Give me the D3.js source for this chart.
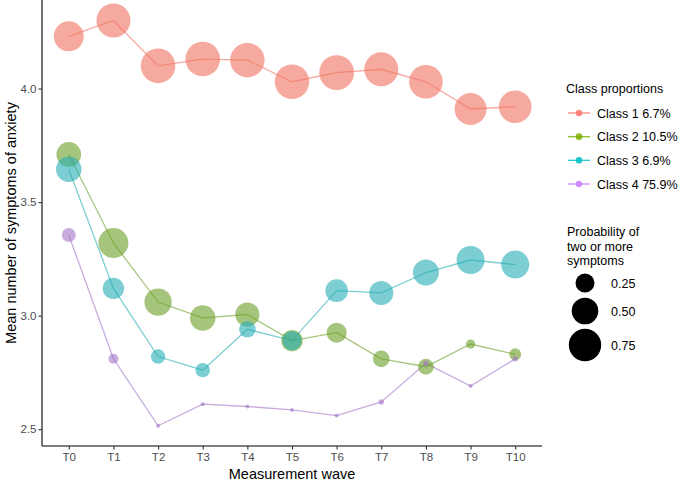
<!DOCTYPE html>
<html>
<head>
<meta charset="utf-8">
<script src="https://cdn.jsdelivr.net/npm/d3@7"></script>
<style>
  body { margin: 0; background: #fff; }
  svg { display: block; font-family: "Liberation Sans", Arial, sans-serif; }
</style>
</head>
<body>
<svg id="chart" width="684" height="481"></svg>
<script>
// ---- data ----
const waves = ["T0", "T1", "T2", "T3", "T4", "T5", "T6", "T7", "T8", "T9", "T10"];
const classNames = ["Class 1 6.7%", "Class 2 10.5%", "Class 3 6.9%", "Class 4 75.9%"];
const classColors = ["#F8766D", "#7CAE00", "#00BFC4", "#C77CFF"];
const markColors = ["#F0715F", "#6A9E24", "#24ADB4", "#A374C6"];

const class1Mean = [4.23, 4.30, 4.10, 4.13, 4.125, 4.03, 4.07, 4.085, 4.03, 3.91, 3.92];
const class2Mean = [3.71, 3.32, 3.06, 2.99, 3.005, 2.89, 2.925, 2.81, 2.775, 2.875, 2.83];
const class3Mean = [3.645, 3.12, 2.82, 2.76, 2.94, 2.89, 3.11, 3.10, 3.19, 3.245, 3.225];
const class4Mean = [3.355, 2.81, 2.515, 2.61, 2.60, 2.585, 2.56, 2.62, 2.79, 2.69, 2.81];

const class1Prob = [0.64, 0.83, 0.86, 0.86, 0.85, 0.85, 0.87, 0.83, 0.81, 0.73, 0.76];
const class2Prob = [0.43, 0.64, 0.53, 0.46, 0.41, 0.32, 0.28, 0.19, 0.17, 0.05, 0.09];
const class3Prob = [0.46, 0.32, 0.14, 0.14, 0.19, 0.26, 0.36, 0.41, 0.48, 0.56, 0.56];
const class4Prob = [0.13, 0.06, 0.0, 0.0, 0.0, 0.0, 0.0, 0.01, 0.01, 0.0, 0.01];

const yTicks = [2.5, 3.0, 3.5, 4.0];
const sizeBreaks = [0.25, 0.50, 0.75];

const means = [class1Mean, class2Mean, class3Mean, class4Mean];
const probs = [class1Prob, class2Prob, class3Prob, class4Prob];
const series = classNames.map((name, i) => ({
  name, color: markColors[i],
  points: waves.map((w, j) => ({ wave: w, mean: means[i][j], prob: probs[i][j] }))
}));

// ---- layout ----
const svg = d3.select("#chart");
const panel = { left: 42, right: 542, top: 0, bottom: 446 };

const x = d3.scalePoint().domain(waves).range([panel.left, panel.right]).padding(0.6);
const y = d3.scaleLinear().domain([2.426, 4.39]).range([panel.bottom, panel.top]);
const area = d3.scaleLinear().domain([0, 1]).range([4, 348]);
const radius = p => Math.sqrt(area(p));

// lines
const line = d3.line().x(d => x(d.wave)).y(d => y(d.mean));
svg.append("g").selectAll("path").data(series).join("path")
  .attr("d", d => line(d.points))
  .attr("fill", "none")
  .attr("stroke", d => d.color)
  .attr("stroke-opacity", 0.6)
  .attr("stroke-width", 1.3);

// points
series.forEach(s => {
  svg.append("g").selectAll("circle").data(s.points).join("circle")
    .attr("cx", d => x(d.wave))
    .attr("cy", d => y(d.mean))
    .attr("r", d => radius(d.prob))
    .attr("fill", s.color)
    .attr("fill-opacity", 0.6);
});

// axes
const yAxis = svg.append("g").attr("transform", `translate(${panel.left},0)`)
  .call(d3.axisLeft(y).tickValues(yTicks).tickFormat(d3.format(".1f")).tickSize(3.5).tickSizeOuter(0).tickPadding(2));
const xAxis = svg.append("g").attr("transform", `translate(0,${panel.bottom})`)
  .call(d3.axisBottom(x).tickSize(3.5).tickSizeOuter(0).tickPadding(3));
[yAxis, xAxis].forEach(g => {
  g.select(".domain").attr("stroke", "#000").attr("stroke-width", 1.1);
  g.selectAll(".tick line").attr("stroke", "#333").attr("stroke-width", 1.1);
  g.selectAll(".tick text").attr("fill", "#4D4D4D").attr("font-size", 11.5)
    .attr("font-family", "Liberation Sans, Arial, sans-serif");
});
yAxis.select(".domain").attr("d", `M0,${panel.bottom}V${panel.top}`);
xAxis.select(".domain").attr("d", `M${panel.left},0H${panel.right}`);

// axis titles
svg.append("text")
  .attr("x", (panel.left + panel.right) / 2).attr("y", 479)
  .attr("text-anchor", "middle").attr("font-size", 14.5).attr("fill", "#000")
  .text("Measurement wave");
svg.append("text")
  .attr("transform", `translate(15.5,${(panel.top + panel.bottom) / 2}) rotate(-90)`)
  .attr("text-anchor", "middle").attr("font-size", 14.5).attr("fill", "#000")
  .text("Mean number of symptoms of anxiety");

// legend: class proportions
const lg = svg.append("g");
lg.append("text").attr("x", 566).attr("y", 93).attr("font-size", 12.5).attr("fill", "#000")
  .text("Class proportions");
const itemY = d3.scalePoint().domain(classNames).range([113, 184]);
classNames.forEach((name, i) => {
  const yy = itemY(name);
  lg.append("line").attr("x1", 568).attr("x2", 590).attr("y1", yy).attr("y2", yy)
    .attr("stroke", classColors[i]).attr("stroke-opacity", 0.8).attr("stroke-width", 1.4);
  lg.append("circle").attr("cx", 579).attr("cy", yy).attr("r", 3.3)
    .attr("fill", classColors[i]).attr("fill-opacity", 0.85);
  lg.append("text").attr("x", 597).attr("y", yy + 4.5).attr("font-size", 12.5).attr("fill", "#000")
    .text(name);
});

// legend: size
const sg = svg.append("g");
["Probability of", "two or more", "symptoms"].forEach((t, i) => {
  sg.append("text").attr("x", 567).attr("y", 236 + i * 14.5).attr("font-size", 12.5).attr("fill", "#000").text(t);
});
const sizeY = [283, 311, 345];
sizeBreaks.forEach((b, i) => {
  sg.append("circle").attr("cx", 585).attr("cy", sizeY[i]).attr("r", radius(b)).attr("fill", "#000");
  sg.append("text").attr("x", 611).attr("y", sizeY[i] + 4.5).attr("font-size", 12.5).attr("fill", "#000")
    .text(d3.format(".2f")(b));
});
</script>
</body>
</html>
